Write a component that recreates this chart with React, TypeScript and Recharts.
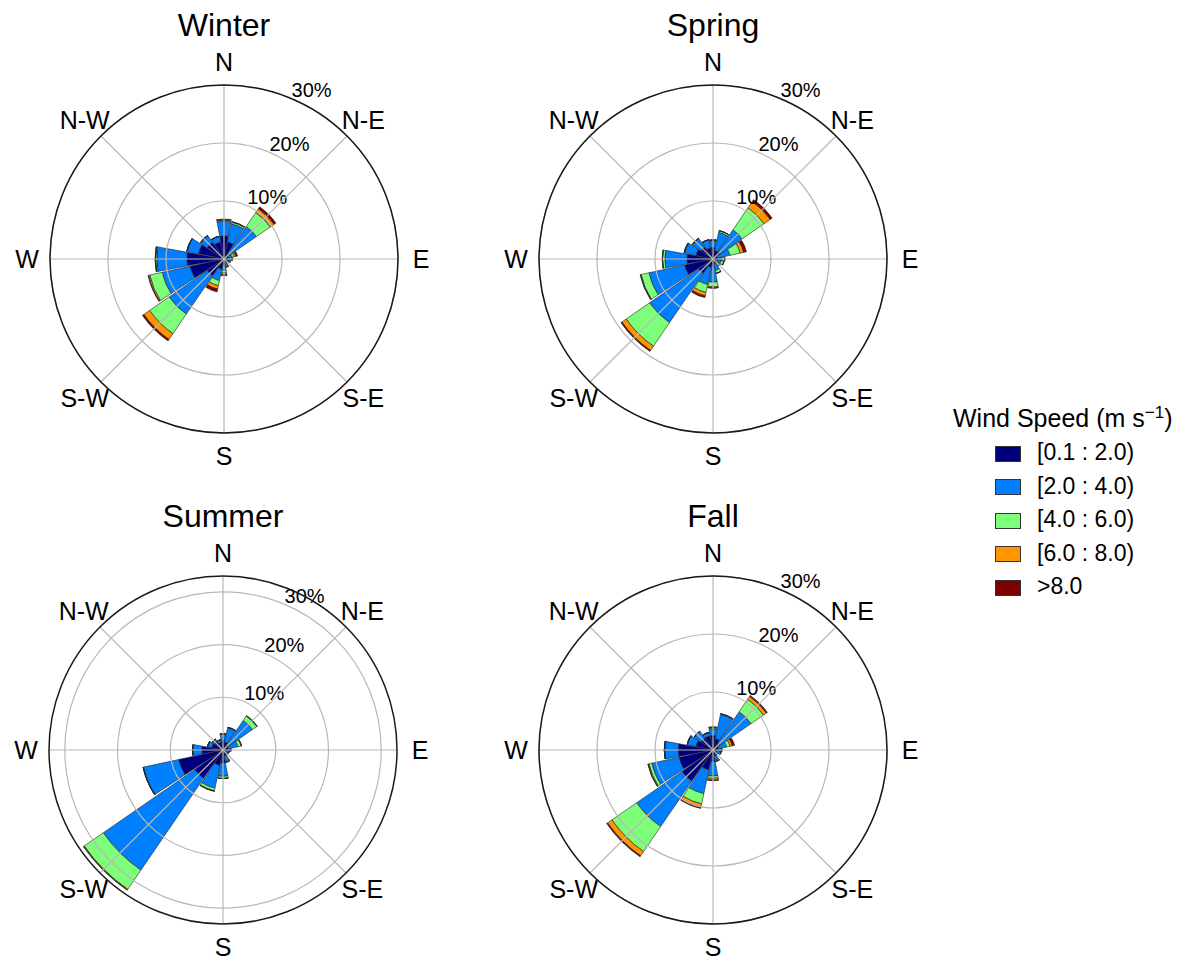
import React from 'react';
import { RadialBarChart, RadialBar, PolarGrid, PolarAngleAxis, PolarRadiusAxis } from 'recharts';

const FONT = 'Liberation Sans, Arial, Helvetica, sans-serif';

const directions = ['N', 'NNE', 'NE', 'ENE', 'E', 'ESE', 'SE', 'SSE', 'S', 'SSW', 'SW', 'WSW', 'W', 'WNW', 'NW', 'NNW'];
const compassLabels: Record<string, string> = { N: 'N', NE: 'N-E', E: 'E', SE: 'S-E', S: 'S', SW: 'S-W', W: 'W', NW: 'N-W' };
const speedBins = ['[0.1 : 2.0)', '[2.0 : 4.0)', '[4.0 : 6.0)', '[6.0 : 8.0)', '>8.0'];
const speedKeys = ['s1', 's2', 's3', 's4', 's5'];
const speedColors = ['#00007f', '#007fff', '#7dff7a', '#ff9400', '#7f0000'];
const pctTicks = [10, 20, 30];

// frequency (%) per direction, N -> NNW clockwise
const winter1 = [4.0, 3.0, 1.2, 0.8, 0.6, 0.5, 0.4, 0.6, 1.0, 1.8, 3.5, 6.0, 6.4, 4.5, 3.5, 3.0];
const winter2 = [2.5, 3.2, 5.6, 0.6, 0.4, 0.4, 0.3, 0.5, 1.0, 2.0, 8.0, 4.9, 5.2, 2.0, 1.4, 1.0];
const winter3 = [0.2, 0.3, 2.9, 0.4, 0.3, 0.2, 0.1, 0.2, 0.4, 0.9, 4.1, 2.2, 0.2, 0.05, 0.05, 0];
const winter4 = [0.1, 0.05, 0.8, 0.3, 0.1, 0.1, 0, 0.1, 0.3, 0.6, 1.2, 0.2, 0.05, 0, 0, 0];
const winter5 = [0.1, 0.05, 0.4, 0.3, 0.1, 0, 0, 0.1, 0.2, 0.5, 0.3, 0.1, 0.05, 0, 0, 0];

const spring1 = [2.0, 1.5, 1.5, 0.8, 0.7, 0.6, 0.6, 0.8, 1.2, 1.5, 3.0, 5.0, 4.5, 3.0, 2.5, 2.0];
const spring2 = [1.2, 3.2, 4.6, 2.2, 0.9, 0.8, 0.6, 1.2, 2.8, 3.0, 10.3, 6.3, 3.8, 2.0, 1.8, 1.4];
const spring3 = [0.1, 0.3, 4.6, 1.8, 0.4, 0.5, 0.3, 0.5, 0.8, 1.4, 4.9, 1.4, 0.4, 0.1, 0.05, 0];
const spring4 = [0, 0, 1.3, 0.6, 0.05, 0.05, 0, 0.05, 0.2, 0.6, 0.9, 0.1, 0.05, 0, 0, 0];
const spring5 = [0, 0, 0.4, 0.5, 0, 0, 0, 0, 0.05, 0.3, 0.2, 0.05, 0, 0, 0, 0];

const summer1 = [1.8, 1.5, 1.2, 1.0, 0.7, 0.6, 0.5, 1.2, 2.5, 3.0, 6.5, 8.6, 4.0, 2.2, 2.0, 1.5];
const summer2 = [1.2, 2.8, 5.6, 1.9, 0.6, 0.5, 0.4, 1.0, 2.5, 4.4, 21.1, 6.8, 1.7, 0.8, 0.5, 0.5];
const summer3 = [0.1, 0.1, 1.0, 0.6, 0.2, 0.1, 0.1, 0.2, 0.4, 0.5, 4.4, 0.1, 0.1, 0, 0, 0];
const summer4 = [0, 0, 0.1, 0.1, 0, 0, 0, 0, 0.02, 0.1, 0.15, 0, 0, 0, 0, 0];
const summer5 = [0, 0, 0, 0, 0, 0, 0, 0, 0, 0.02, 0.05, 0, 0, 0, 0, 0];

const fall1 = [2.5, 2.0, 1.5, 1.0, 0.7, 0.6, 0.5, 1.0, 2.0, 3.5, 6.5, 6.0, 6.0, 3.0, 2.5, 2.5];
const fall2 = [1.1, 4.3, 6.5, 1.4, 0.6, 0.6, 0.4, 0.8, 2.5, 4.2, 9.5, 4.8, 2.3, 1.5, 1.4, 0.6];
const fall3 = [0.2, 0.1, 2.6, 0.6, 0.2, 0.2, 0.1, 0.2, 0.4, 1.8, 5.2, 0.5, 0.1, 0.05, 0.05, 0];
const fall4 = [0.15, 0, 0.6, 0.4, 0.05, 0.05, 0, 0.05, 0.3, 0.6, 0.9, 0.15, 0, 0, 0, 0];
const fall5 = [0.05, 0, 0.2, 0.4, 0, 0, 0, 0, 0.1, 0.2, 0.2, 0.05, 0, 0, 0, 0];

const buildRows = (bins: number[][]) =>
  directions.map((dir, i) => {
    const row: Record<string, any> = { dir };
    speedKeys.forEach((k, j) => {
      row[k] = bins[j][i];
    });
    return row;
  });

const OUTER = 174;
const LABEL_R = 197;
// recharts starts each sector at its tick, so the axis is turned back half a sector
const HALF_SECTOR = 360 / directions.length / 2;
const START = 90 - HALF_SECTOR;

const makeDirTick = (cx: number, cy: number) => (props: any) => {
  const { payload } = props;
  const label = compassLabels[payload.value];
  if (!label) return null;
  const a = ((payload.coordinate + HALF_SECTOR) * Math.PI) / 180;
  const x = cx + LABEL_R * Math.cos(a);
  const y = cy - LABEL_R * Math.sin(a);
  return (
    <text x={x} y={y} textAnchor="middle" dominantBaseline="central" fontSize={25} fontFamily={FONT} fill="#000">
      {label}
    </text>
  );
};

const PctTick = (props: any) => {
  const { x, y, payload } = props;
  return (
    <text x={x + 1} y={y - 1} textAnchor="start" fontSize={20} fontFamily={FONT} fill="#000">
      {`${payload.value}%`}
    </text>
  );
};

const WindRose = ({ title, rows, max, left, top, cx, cy }: any) => {
  const chartProps = {
    width: 470,
    height: 480,
    data: rows,
    layout: 'centric' as const,
    cx,
    cy,
    innerRadius: 0,
    outerRadius: OUTER,
    startAngle: START,
    endAngle: START - 360,
    barCategoryGap: '4%',
    margin: { top: 0, right: 0, bottom: 0, left: 0 },
  };
  return (
    <div style={{ position: 'absolute', left, top, width: 470, height: 480 }}>
      <RadialBarChart {...chartProps}>
        <PolarAngleAxis dataKey='dir' type='category' tick={makeDirTick(cx, cy)} tickLine={false} axisLine={false} />
        <PolarRadiusAxis
          type='number'
          domain={[0, max]}
          allowDataOverflow
          ticks={pctTicks}
          angle={67.5}
          axisLine={false}
          tickLine={false}
          tick={PctTick}
        />
        {speedKeys.map((k, i) => (
          <RadialBar
            key={k}
            dataKey={k}
            name={speedBins[i]}
            stackId='speed'
            fill={speedColors[i]}
            stroke='#222'
            strokeWidth={0.6}
            isAnimationActive={false}
          />
        ))}
      </RadialBarChart>
      {/* grid drawn over the bars, as in the original */}
      <div style={{ position: 'absolute', left: 0, top: 0, pointerEvents: 'none' }}>
        <RadialBarChart {...chartProps}>
          <PolarAngleAxis dataKey='dir' type='category' tick={false} tickLine={false} axisLine={false} />
          <PolarRadiusAxis type='number' domain={[0, max]} allowDataOverflow ticks={pctTicks} tick={false} axisLine={false} tickLine={false} />
          <PolarGrid
            gridType='circle'
            polarAngles={[90, 45, 0, -45, -90, -135, 180, 135]}
            stroke='#b8b8b8'
            strokeWidth={1.2}
          />
          <PolarGrid gridType='circle' polarRadius={[OUTER]} radialLines={false} stroke='#1a1a1a' strokeWidth={1.5} />
        </RadialBarChart>
      </div>
      <div
        style={{
          position: 'absolute',
          left: cx - 120,
          width: 240,
          top: cy - 223 - 27,
          textAlign: 'center',
          fontFamily: FONT,
          fontSize: 32,
          lineHeight: '32px',
          color: '#000',
        }}
      >
        {title}
      </div>
    </div>
  );
};

const Legend = () => (
  <div style={{ position: 'absolute', left: 0, top: 0, fontFamily: FONT, color: '#000' }}>
    <div style={{ position: 'absolute', left: 953, top: 406, fontSize: 25, lineHeight: '25px', whiteSpace: 'nowrap' }}>
      Wind Speed (m s<sup style={{ fontSize: 17, lineHeight: 0 }}>−1</sup>)
    </div>
    {speedBins.map((label, i) => {
      const rowY = 453 + i * 33.5;
      return (
        <React.Fragment key={label}>
          <div
            style={{
              position: 'absolute',
              left: 995,
              top: rowY - 7.5,
              width: 24,
              height: 14,
              background: speedColors[i],
              border: '1px solid #333',
            }}
          />
          <div style={{ position: 'absolute', left: 1037, top: rowY - 12, fontSize: 23, lineHeight: '23px', whiteSpace: 'nowrap' }}>
            {label}
          </div>
        </React.Fragment>
      );
    })}
  </div>
);

export default function App() {
  return (
    <div style={{ position: 'absolute', left: 0, top: 0, width: 1185, height: 960, background: '#fff' }}>
      <WindRose title='Winter' rows={buildRows([winter1, winter2, winter3, winter4, winter5])} max={30} left={0} top={0} cx={224} cy={259} />
      <WindRose title='Spring' rows={buildRows([spring1, spring2, spring3, spring4, spring5])} max={30} left={480} top={0} cx={233} cy={259} />
      <WindRose title='Summer' rows={buildRows([summer1, summer2, summer3, summer4, summer5])} max={32.6} left={0} top={490} cx={223} cy={260} />
      <WindRose title='Fall' rows={buildRows([fall1, fall2, fall3, fall4, fall5])} max={30} left={480} top={490} cx={233} cy={260} />
      <Legend />
    </div>
  );
}
